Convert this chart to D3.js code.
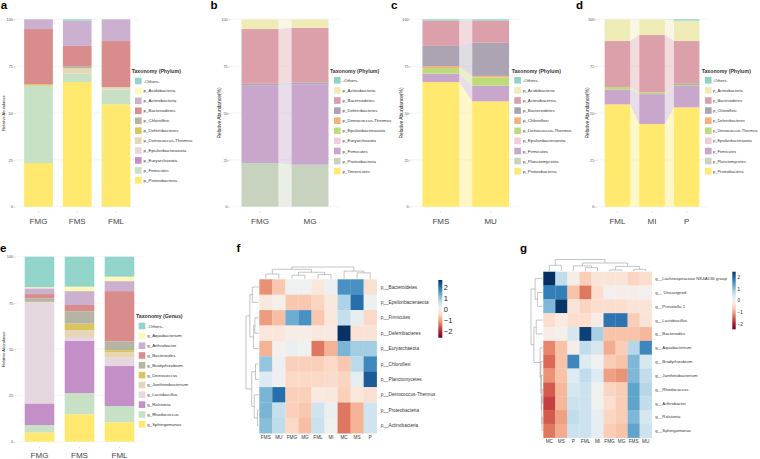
<!DOCTYPE html>
<html><head><meta charset="utf-8">
<script src="https://cdn.jsdelivr.net/npm/d3@7"></script>
<style>body{margin:0;background:#fff}svg{display:block;font-family:"Liberation Sans",Arial,sans-serif}</style>
</head><body><svg id="chart" width="760" height="459"></svg>
<script>
// ---------------- DATA ----------------
// panel a (phylum, FMG/FMS/FML)
const aCategories = ["FMG","FMS","FML"];
const aTaxa = ["-Others-","p_Acidobacteria","p_Actinobacteria","p_Bacteroidetes","p_Chloroflexi","p_Deferribacteres","p_Deinococcus-Thermus","p_Epsilonbacteraeota","p_Euryarchaeota","p_Firmicutes","p_Proteobacteria"];
const aValues = [
  [0,0,5.2,29.4,0,0.8,0,0,0,41.3,23.3],
  [0.7,0,13.5,10.8,1.0,0,3.0,0,0,4.5,66.5],
  [0,0,11.6,24.6,0,0,1.2,0,0,8.0,54.6]
];
// panel b
const bCategories = ["FMG","MG"];
const bTaxa = ["-Others-","p_Actinobacteria","p_Bacteroidetes","p_Deferribacteres","p_Deinococcus-Thermus","p_Epsilonbacteraeota","p_Euryarchaeota","p_Firmicutes","p_Proteobacteria","p_Tenericutes"];
const bValues = [
  [0,5.2,29.2,0.8,0,0,0,41.5,23.3,0],
  [0,4.5,29.2,1.0,0,0,0,42.9,22.4,0]
];
// panel c
const cCategories = ["FMS","MU"];
const cTaxa = ["-Others-","p_Acidobacteria","p_Actinobacteria","p_Bacteroidetes","p_Chloroflexi","p_Deinococcus-Thermus","p_Epsilonbacteraeota","p_Firmicutes","p_Planctomycetes","p_Proteobacteria"];
const cValues = [
  [0.7,0,13.5,10.8,1.0,3.0,0,4.5,0,66.5],
  [0.7,0,11.8,17.7,0.8,4.4,0,8.4,0,56.2]
];
// panel d
const dCategories = ["FML","MI","P"];
const dTaxa = ["-Others-","p_Actinobacteria","p_Bacteroidetes","p_Chloroflexi","p_Deferribacteres","p_Deinococcus-Thermus","p_Epsilonbacteraeota","p_Firmicutes","p_Planctomycetes","p_Proteobacteria"];
const dValues = [
  [0,11.6,24.5,0,0,1.3,0,8.0,0,54.6],
  [0,8.4,30.6,0,0,0.9,0,16.0,0,44.1],
  [0.7,10.9,22.6,0.8,0,0.6,0,11.4,0,53.0]
];
// panel e (genus)
const eCategories = ["FMG","FMS","FML"];
const eTaxa = ["-Others-","g_Aquabacterium","g_Arthrobacter","g_Bacteroides","g_Bradyrhizobium","g_Deinococcus","g_Janthinobacterium","g_Lactobacillus","g_Ralstonia","g_Rhodococcus","g_Sphingomonas"];
const eValues = [
  [16.5,0.6,3.1,2.3,1.9,0,0.5,54.4,11.7,4.0,5.0],
  [16.2,2.4,7.5,3.4,6.7,3.4,3.8,2.0,28.3,11.5,14.8],
  [10.8,2.4,5.4,27.2,4.7,1.2,2.9,4.5,21.6,8.8,10.5]
];
// panel f heatmap (z-scores)
const fCols = ["FMS","MU","FMG","MG","FML","MI","MC","MS","P"];
const fRows = ["p__Bacteroidetes","p__Epsilonbacteraeota","p__Firmicutes","p__Deferribacteres","p__Euryarchaeota","p__Chloroflexi","p__Planctomycetes","p__Deinococcus-Thermus","p__Proteobacteria","p__Actinobacteria"];
const fValues = [
  [-1.2,-0.7,0.05,0.05,-0.3,0.1,1.6,1.6,-0.4],
  [-0.25,-0.1,-0.7,-0.7,-0.55,-0.25,0.8,2.0,0.1],
  [-1.1,-0.8,1.3,1.6,-0.7,-0.3,0.6,0.2,-0.5],
  [-0.3,-0.3,-0.15,-0.15,-0.25,-0.2,2.6,-0.35,-0.35],
  [-0.9,-0.05,0.15,0.05,-1.4,-0.9,1.2,0.9,0.9],
  [1.0,0.1,-0.6,-0.6,-0.6,-0.5,-0.7,0.7,1.7],
  [0.35,0.1,-0.5,-0.5,-0.5,-0.45,-0.55,0.25,2.2],
  [1.2,2.0,-0.6,-0.6,-0.2,-0.25,-0.6,-0.3,-0.4],
  [1.2,0.6,-0.6,-0.7,0.5,0.15,-1.4,-0.9,0.5],
  [1.1,0.65,-0.5,-0.8,0.55,0.05,-1.4,-0.9,0.5]
];
const fColTree = [[[0,1,0.4],[[2,3,0.3],[4,5,0.35],0.55],0.8],[6,[7,8,0.5],0.65],1];
const fRowTree = [[[0,1,0.5],[[2,3,0.3],4,0.4],0.7],[[5,6,0.25],[7,[8,9,0.1],0.35],0.55],1];
const fScaleTicks = [-2,-1,0,1,2];
// panel g heatmap (z-scores)
const gCols = ["MC","MS","P","FML","MI","FMG","MG","FMS","MU"];
const gRows = ["g__Lachnospiraceae NK4A136 group","g__ Unassigned","g__Prevotella 1","g__Lactobacillus","g__Bacteroides","g__Aquabacterium","g__Bradyrhizobium","g__Janthinobacterium","g__Rhodococcus","g__Arthrobacter","g__Ralstonia","g__Sphingomonas"];
const gValues = [
  [2.6,0.6,-0.1,-0.6,-0.3,-0.3,-0.3,-0.5,-0.4],
  [1.7,1.7,-0.7,-1.3,-0.4,0.0,-0.1,-0.1,0.0],
  [1.1,2.4,-0.3,-0.5,-0.4,-0.4,-0.4,-0.3,-0.3],
  [-0.4,-0.2,-0.4,-0.4,-0.15,1.8,1.8,-0.6,-0.3],
  [-0.1,-0.05,0.4,2.3,0.8,-0.7,-0.7,-0.7,-0.8],
  [-1.2,-0.7,-0.1,0.6,0.4,-0.9,-0.6,0.7,1.6],
  [-1.4,-0.7,1.6,0.3,0.05,-0.6,-0.7,1.1,0.4],
  [-1.1,-0.7,0.3,0.6,0.3,-1.0,-1.1,1.1,0.6],
  [-1.5,-0.8,0.4,0.5,0.05,-0.5,-0.6,1.3,0.7],
  [-1.7,-0.8,0.5,0.5,0.05,-0.4,-0.6,1.3,0.6],
  [-1.5,-1.0,0.6,0.5,0.2,-0.5,-0.6,1.1,0.4],
  [-1.3,-0.9,0.5,0.5,0.2,-0.6,-0.7,1.3,0.5]
];
const gColTree = [[0,1,0.5],[[2,[3,4,0.3],0.45],[[5,6,0.1],[7,8,0.15],0.4],0.7],1];
const gRowTree = [[0,[1,2,0.45],0.65],[[3,4,0.55],[5,[6,[7,[[8,9,0.04],[10,11,0.05],0.08],0.12],0.16],0.22],0.75],1];
const gScaleTicks = [-2,-1,0,1,2];

// ---------------- STYLES ----------------
const palette1 = ["#93D5CA","#FBF8B8","#CBB0CF","#D98C8C","#B5B5A5","#D8C55E","#E5D6B6","#E5D7E0","#C38FC6","#C8E0C5","#FFE86E"];
const palette2 = ["#8DD3C7","#EEEBB7","#DBA0AA","#ACA3B3","#F2B27A","#BEDB7A","#F1CCDD","#C9A6CB","#C7D3BF","#FFE96E"];
const FONT = '"Liberation Sans",Arial,sans-serif';

const svg = d3.select("#chart");
svg.append("rect").attr("width",760).attr("height",459).attr("fill","#fff");

function letter(t,x,y){
  svg.append("text").attr("x",x).attr("y",y).text(t)
    .attr("font-size",11.5).attr("font-weight","bold").attr("fill","#000").attr("font-family",FONT);
}

function legend(g,o,taxa,col){
  g.append("text").attr("x",o.legX).attr("y",o.legTitleY).text(o.legTitle)
    .attr("font-size",5.2).attr("font-weight","bold").attr("fill","#333");
  const it = g.append("g").selectAll("g").data(taxa).join("g")
    .attr("transform",(d,i)=>`translate(${o.swX},${o.legFirst + i*o.legStep})`);
  it.append("rect").attr("x",0).attr("y",-3.3).attr("width",6.6).attr("height",6.6).attr("fill",d=>col(d));
  it.append("text").attr("x",o.labDx||8.6).attr("y",1.5).text(d=>d).attr("font-size",o.labFont||4.4).attr("fill","#333");
}

function stackPanel(o){
  const g = svg.append("g").attr("font-family",FONT);
  const x = d3.scaleBand().domain(o.cats).range([o.left,o.right]).paddingInner(0.26).paddingOuter(0.23);
  const y = d3.scaleLinear().domain([0,100]).range([o.yBot,o.yTop]);
  const ticks = [0,25,50,75,100];
  g.append("g").selectAll("line").data(ticks).join("line")
    .attr("x1",o.left).attr("x2",o.right).attr("y1",d=>y(d)).attr("y2",d=>y(d))
    .attr("stroke","#EBEBEB").attr("stroke-width",0.5);
  const rows = o.cats.map((c,i)=>{const r={cat:c}; o.taxa.forEach((t,j)=>r[t]=o.values[i][j]); return r;});
  const series = d3.stack().keys(o.taxa.slice().reverse())(rows);
  const col = d3.scaleOrdinal().domain(o.taxa).range(o.colors);
  if(o.flows){
    const area = d3.area().x(d=>d.x).y0(d=>y(d.lo)).y1(d=>y(d.hi));
    series.forEach(s=>{
      for(let i=0;i<o.cats.length-1;i++){
        const a=s[i], b=s[i+1];
        if(a[1]-a[0]<=0 && b[1]-b[0]<=0) continue;
        g.append("path")
          .attr("d",area([{x:x(o.cats[i])+x.bandwidth(),lo:a[0],hi:a[1]},{x:x(o.cats[i+1]),lo:b[0],hi:b[1]}]))
          .attr("fill",col(s.key)).attr("fill-opacity",0.38);
      }
    });
  }
  series.forEach(s=>{
    g.append("g").selectAll("rect").data(s.filter(d=>d[1]>d[0])).join("rect")
      .attr("x",d=>x(d.data.cat)).attr("width",x.bandwidth())
      .attr("y",d=>y(d[1])).attr("height",d=>y(d[0])-y(d[1])).attr("fill",col(s.key));
  });
  const ya = g.append("g").attr("transform",`translate(${o.left},0)`)
    .call(d3.axisLeft(y).tickValues(ticks).tickSize(1.8).tickPadding(0.6));
  ya.attr("font-family",FONT);
  ya.select(".domain").remove();
  ya.selectAll("line").attr("stroke","#999").attr("stroke-width",0.4);
  ya.selectAll("text").attr("font-size",3.8).attr("fill","#555");
  const xa = g.append("g").attr("transform",`translate(0,${o.yBot+5})`)
    .call(d3.axisBottom(x).tickSize(1.3));
  xa.attr("font-family",FONT);
  xa.select(".domain").remove();
  xa.selectAll("line").attr("stroke","#999").attr("stroke-width",0.4);
  xa.selectAll("text").attr("font-size",8).attr("fill","#444").attr("y",o.catBase-5).attr("dy",0);
  g.append("text").attr("transform",`translate(${o.yTitleX},${(o.yTop+o.yBot)/2}) rotate(-90)`)
    .attr("text-anchor","middle").text(o.yTitle).attr("font-size",o.yTitleSize).attr("fill","#222");
  legend(g,o,o.taxa,col);
}

function dendro(g,tree,posOf,hScale,vertical){
  const line = d3.line();
  function walk(n){
    if(typeof n==="number") return {p:posOf(n),h:0};
    const A=walk(n[0]), B=walk(n[1]), h=n[2];
    const pts = [[A.p,A.h],[A.p,h],[B.p,h],[B.p,B.h]].map(([p,hh])=> vertical ? [p,hScale(hh)] : [hScale(hh),p]);
    g.append("path").attr("d",line(pts)).attr("fill","none").attr("stroke","#8a8a8a").attr("stroke-width",0.5);
    return {p:(A.p+B.p)/2,h:h};
  }
  walk(tree);
}

function heatPanel(o){
  const g = svg.append("g").attr("font-family",FONT);
  const x = d3.scaleBand().domain(o.cols).range([o.left,o.right]);
  const y = d3.scaleBand().domain(o.rows).range([o.top,o.bottom]);
  const c = d3.scaleDiverging(d3.interpolateRdBu).domain([-o.dmax,0,o.dmax]).clamp(true);
  const cells = o.rows.flatMap((r,i)=>o.cols.map((cc,j)=>({r:r,c:cc,v:o.values[i][j]})));
  g.append("g").selectAll("rect").data(cells).join("rect")
    .attr("x",d=>x(d.c)).attr("y",d=>y(d.r)).attr("width",x.bandwidth()+0.2).attr("height",y.bandwidth()+0.2)
    .attr("fill",d=>c(d.v));
  g.append("g").selectAll("text").data(o.rows).join("text")
    .attr("x",o.right+o.rowLabelGap).attr("y",d=>y(d)+y.bandwidth()/2).attr("dy","0.35em")
    .text(d=>d).attr("font-size",o.rowFont).attr("fill","#333");
  g.append("g").selectAll("text").data(o.cols).join("text")
    .attr("x",d=>x(d)+x.bandwidth()/2).attr("y",o.colLabelY).attr("text-anchor","middle")
    .text(d=>d).attr("font-size",4.7).attr("fill","#333");
  dendro(g,o.colTree,i=>x(o.cols[i])+x.bandwidth()/2,d3.scaleLinear().domain([0,1]).range([o.top-0.6,o.colTreeTop]),true);
  dendro(g,o.rowTree,i=>y(o.rows[i])+y.bandwidth()/2,d3.scaleLinear().domain([0,1]).range([o.left-0.6,o.rowTreeLeft]),false);
  // colour key
  const gid = "grad"+o.id;
  const grad = svg.append("defs").append("linearGradient").attr("id",gid).attr("x1",0).attr("x2",0).attr("y1",1).attr("y2",0);
  d3.range(0,1.0001,0.05).forEach(t=>grad.append("stop").attr("offset",t).attr("stop-color",c(-o.dmax+t*2*o.dmax)));
  g.append("rect").attr("x",o.cbX).attr("y",o.cbTop).attr("width",o.cbW).attr("height",o.cbBot-o.cbTop).attr("fill",`url(#${gid})`);
  const ks = d3.scaleLinear().domain([-o.dmax,o.dmax]).range([o.cbBot,o.cbTop]);
  const ka = g.append("g").attr("transform",`translate(${o.cbX+o.cbW},0)`)
    .call(d3.axisRight(ks).tickValues(o.ticks).tickSize(0).tickPadding(o.cbPad).tickFormat(d3.format("d")));
  ka.attr("font-family",FONT);
  ka.select(".domain").remove();
  ka.selectAll("text").attr("font-size",o.cbFont).attr("fill","#222");
}

// ---------------- DRAW ----------------
stackPanel({cats:aCategories,taxa:aTaxa,values:aValues,colors:palette1,flows:false,
  left:15.25,right:139.25,yTop:19.3,yBot:206.7,catBase:17.5,
  yTitle:"Relative Abundance",yTitleX:5.3,yTitleSize:4,
  legTitle:"Taxonomy (Phylum)",legX:131.7,legTitleY:72.5,swX:135,legFirst:81,legStep:9.93});
stackPanel({cats:bCategories,taxa:bTaxa,values:bValues,colors:palette2,flows:true,
  left:230,right:340,yTop:19.3,yBot:206.7,catBase:17.5,
  yTitle:"Relative Abundance(%)",yTitleX:220.5,yTitleSize:4.9,
  legTitle:"Taxonomy (Phylum)",legX:330,legTitleY:72.5,swX:334,legFirst:80.3,legStep:10.1});
stackPanel({cats:cCategories,taxa:cTaxa,values:cValues,colors:palette2,flows:true,
  left:411,right:520.5,yTop:19.3,yBot:206.7,catBase:17.5,
  yTitle:"Relative Abundance(%)",yTitleX:402.5,yTitleSize:4.9,
  legTitle:"Taxonomy (Phylum)",legX:511.7,legTitleY:72.5,swX:514.3,legFirst:80.3,legStep:10.1});
stackPanel({cats:dCategories,taxa:dTaxa,values:dValues,colors:palette2,flows:true,
  left:596.7,right:707.4,yTop:19.3,yBot:206.7,catBase:17.5,
  yTitle:"Relative Abundance(%)",yTitleX:589,yTitleSize:4.9,
  legTitle:"Taxonomy (Phylum)",legX:701.7,legTitleY:72.5,swX:705,legFirst:80.3,legStep:10.1,
  labDx:8,labFont:4.0});
stackPanel({cats:eCategories,taxa:eTaxa,values:eValues,colors:palette1,flows:false,
  left:15.5,right:143.5,yTop:256.7,yBot:441.7,catBase:16.3,
  yTitle:"Relative Abundance",yTitleX:5.3,yTitleSize:4,
  legTitle:"Taxonomy (Genus)",legX:136,legTitleY:317.7,swX:138.7,legFirst:326,legStep:9.83});

heatPanel({id:"f",cols:fCols,rows:fRows,values:fValues,colTree:fColTree,rowTree:fRowTree,
  left:259.3,right:376.7,top:279.3,bottom:433.3,rowLabelGap:4,colLabelY:439,rowFont:4.7,
  colTreeTop:267,rowTreeLeft:246,dmax:2.62,ticks:fScaleTicks,
  cbX:438.3,cbW:4,cbTop:280,cbBot:337.7,cbPad:1.5,cbFont:7.5});
heatPanel({id:"g",cols:gCols,rows:gRows,values:gValues,colTree:gColTree,rowTree:gRowTree,
  left:543.3,right:651.7,top:271.7,bottom:437.7,rowLabelGap:3.5,colLabelY:443,rowFont:4.3,
  colTreeTop:259.5,rowTreeLeft:531,dmax:2.45,ticks:gScaleTicks,
  cbX:732.3,cbW:3.4,cbTop:271.7,cbBot:329.3,cbPad:1.8,cbFont:4.6});

letter("a",0.8,9);
letter("b",210.5,9);
letter("c",391,9);
letter("d",576,9);
letter("e",0,251.7);
letter("f",236.5,251.7);
letter("g",520,251.7);
</script></body></html>
